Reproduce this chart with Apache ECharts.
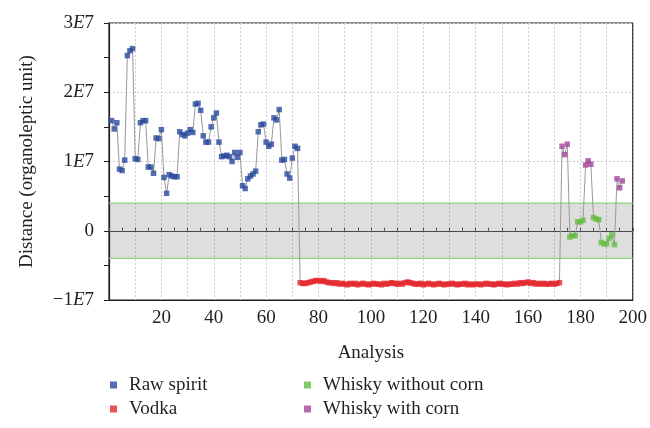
<!DOCTYPE html>
<html>
<head>
<meta charset="utf-8">
<script src="https://cdn.jsdelivr.net/npm/echarts@6/dist/echarts.min.js"></script>
<style>
  html, body { margin: 0; padding: 0; background: #fff; }
  #chart { width: 650px; height: 428px; }
</style>
</head>
<body>
<div id="chart"></div>
<script>
// values in millions (1E7 = 10)
const rawSpirit = [
  15.9, 14.7, 15.6, 8.9, 8.7, 10.2, 25.3, 26.0, 26.3, 10.4,
  10.3, 15.6, 15.9, 15.9, 9.2, 9.2, 8.3, 13.4, 13.3, 14.6,
  7.7, 5.4, 8.1, 7.9, 7.8, 7.8, 14.3, 13.9, 13.7, 14.1,
  14.6, 14.2, 18.3, 18.4, 17.4, 13.7, 12.8, 12.8, 15.0, 16.3,
  17.0, 12.8, 10.7, 10.8, 10.9, 10.7, 10.0, 11.3, 10.6, 11.3,
  6.5, 6.1, 7.5, 7.9, 8.2, 8.6, 14.3, 15.3, 15.4, 12.8,
  12.2, 12.5, 16.3, 16.0, 17.5, 10.2, 10.3, 8.2, 7.6, 10.5,
  12.2, 11.9
];
const vodka = [
  -7.5, -7.6, -7.6, -7.5, -7.4, -7.3,
  -7.2, -7.2, -7.3, -7.2, -7.4, -7.5,
  -7.5, -7.6, -7.5, -7.7, -7.6, -7.7, -7.8, -7.6,
  -7.7, -7.6, -7.8, -7.7, -7.6, -7.7, -7.8, -7.7,
  -7.6, -7.7, -7.7, -7.8, -7.6, -7.7, -7.6, -7.5, -7.6, -7.7,
  -7.6, -7.7, -7.5, -7.4, -7.5, -7.6, -7.7, -7.7, -7.6, -7.8,
  -7.7, -7.6, -7.7, -7.8, -7.7, -7.6, -7.7, -7.8, -7.7, -7.7,
  -7.6, -7.7, -7.8, -7.7, -7.7, -7.6, -7.8, -7.7, -7.8, -7.7,
  -7.7, -7.8, -7.7, -7.6, -7.7, -7.7, -7.8, -7.7, -7.6, -7.7,
  -7.7, -7.8, -7.7, -7.7, -7.6, -7.7, -7.5, -7.6, -7.5, -7.4,
  -7.6, -7.5, -7.7, -7.6, -7.7, -7.6, -7.7, -7.7, -7.6, -7.7,
  -7.6, -7.5
];
const whisky = [
  12.2, 11.0, 12.5, -0.9, -0.7, -0.7, 1.3, 1.3, 1.5, 9.5,
  10.1, 9.6, 1.9, 1.7, 1.6, -1.7, -1.9, -1.9, -1.1, -0.6,
  -2.0, 7.5, 6.2, 7.2
];
// 1 = whisky with corn, 0 = whisky without corn
const whiskyCorn = [
  1, 1, 1, 0, 0, 0, 0, 0, 0, 1,
  1, 1, 0, 0, 0, 0, 0, 0, 0, 0,
  0, 1, 1, 1
];
const bandLimit = 4;
const xRange = [0, 200];
const xTicks = [20, 40, 60, 80, 100, 120, 140, 160, 180, 200];

const rawStart = 1;
const vodkaStart = rawStart + rawSpirit.length;
const whiskyStart = vodkaStart + vodka.length;

const rawPts = rawSpirit.map((v, i) => [rawStart + i, v]);
const vodkaPts = vodka.map((v, i) => [vodkaStart + i, v]);
const whiskyPts = whisky.map((v, i) => [whiskyStart + i, v]);
const noCornPts = whiskyPts.filter((p, i) => !whiskyCorn[i]);
const cornPts = whiskyPts.filter((p, i) => whiskyCorn[i]);
const allPts = rawPts.concat(vodkaPts, whiskyPts);

const FONT = "'Liberation Serif', 'DejaVu Serif', serif";
const INK = "#231f20";
const GRID_LINE = { show: true, lineStyle: { color: "#cfcfcf", type: [2, 2], width: 1 } };
const LEGEND_TEXT = { fontFamily: FONT, fontSize: 19, color: INK, lineHeight: 20, padding: [0, 0, 0, 7] };

const chart = echarts.init(document.getElementById("chart"), null, { renderer: "canvas" });

const scatter = (name, data, color) => ({
  name,
  type: "scatter",
  data,
  symbol: "rect",
  symbolSize: 5.5,
  itemStyle: { color },
  z: 5,
});

// green limit line of the grey band
const limitLine = (name, y) => ({
  name,
  type: "line",
  data: xRange.map((x) => [x, y]),
  showSymbol: false,
  silent: true,
  lineStyle: { color: "#8fd47f", width: 1.2 },
  z: 2,
});

chart.setOption({
  animation: false,
  backgroundColor: "#fff",
  textStyle: { fontFamily: FONT, color: INK },
  grid: {
    left: 109, right: 17, top: 23, bottom: 128,
    show: true, borderColor: INK, borderWidth: 1.2, backgroundColor: "transparent",
  },
  legend: [
    {
      data: ["Raw spirit", "Vodka"],
      orient: "vertical",
      left: 105, top: 370,
      itemWidth: 7, itemHeight: 7, itemGap: 4,
      icon: "rect",
      textStyle: LEGEND_TEXT,
    },
    {
      data: ["Whisky without corn", "Whisky with corn"],
      orient: "vertical",
      left: 299, top: 370,
      itemWidth: 7, itemHeight: 7, itemGap: 4,
      icon: "rect",
      textStyle: LEGEND_TEXT,
    },
  ],
  xAxis: [
    {
      type: "value",
      min: xRange[0], max: xRange[1], interval: 10,
      position: "bottom",
      axisLine: { onZero: false, lineStyle: { color: INK, width: 1.2 } },
      axisTick: { show: false },
      axisLabel: {
        fontFamily: FONT, fontSize: 19, color: INK, margin: 9,
        formatter: (v) => (xTicks.includes(v) ? String(v) : ""),
      },
      splitLine: GRID_LINE,
      name: "Analysis",
      nameLocation: "middle",
      nameGap: 44,
      nameTextStyle: { fontFamily: FONT, fontSize: 19, color: INK },
    },
    {
      // zero line with small ticks
      type: "value",
      min: xRange[0], max: xRange[1], interval: 5,
      position: "top",
      axisLine: { onZero: true, lineStyle: { color: "#555", width: 1 } },
      axisTick: { show: true, length: 3, lineStyle: { color: "#555" } },
      axisLabel: { show: false },
      splitLine: { show: false },
    },
  ],
  yAxis: {
    type: "value",
    min: -10, max: 30, interval: 10,
    axisLine: { show: true, lineStyle: { color: INK, width: 1.2 } },
    axisTick: { show: true, length: 5, lineStyle: { color: INK } },
    minorTick: { show: true, splitNumber: 2, length: 5, lineStyle: { color: INK } },
    splitLine: GRID_LINE,
    axisLabel: {
      margin: 15,
      fontFamily: FONT, fontSize: 19, color: INK,
      formatter: (v) => {
        if (v === 0) return "{n|0}";
        const sign = v < 0 ? "−" : "";
        return "{n|" + sign + Math.abs(v) / 10 + "}{e|E}{n|7}";
      },
      rich: {
        n: { fontFamily: FONT, fontSize: 19, color: INK },
        e: { fontFamily: FONT, fontSize: 19, color: INK, fontStyle: "italic" },
      },
    },
    name: "Distance (organoleptic unit)",
    nameLocation: "middle",
    nameGap: 72,
    nameTextStyle: { fontFamily: FONT, fontSize: 19, color: INK },
  },
  series: [
    {
      name: "band",
      type: "line",
      data: [],
      silent: true,
      markArea: {
        silent: true,
        itemStyle: { color: "rgba(0,0,0,0.13)" },
        data: [[{ yAxis: -bandLimit }, { yAxis: bandLimit }]],
      },
      z: 1,
    },
    limitLine("upper", bandLimit),
    limitLine("lower", -bandLimit),
    {
      name: "trace",
      type: "line",
      data: allPts,
      showSymbol: false,
      lineStyle: { color: "#9a9a9a", width: 1 },
      silent: true,
      z: 3,
    },
    scatter("Raw spirit", rawPts, "#2a4a9f"),
    scatter("Vodka", vodkaPts, "#e3262b"),
    scatter("Whisky without corn", noCornPts, "#66bd45"),
    scatter("Whisky with corn", cornPts, "#a3479b"),
  ],
});
</script>
</body>
</html>
